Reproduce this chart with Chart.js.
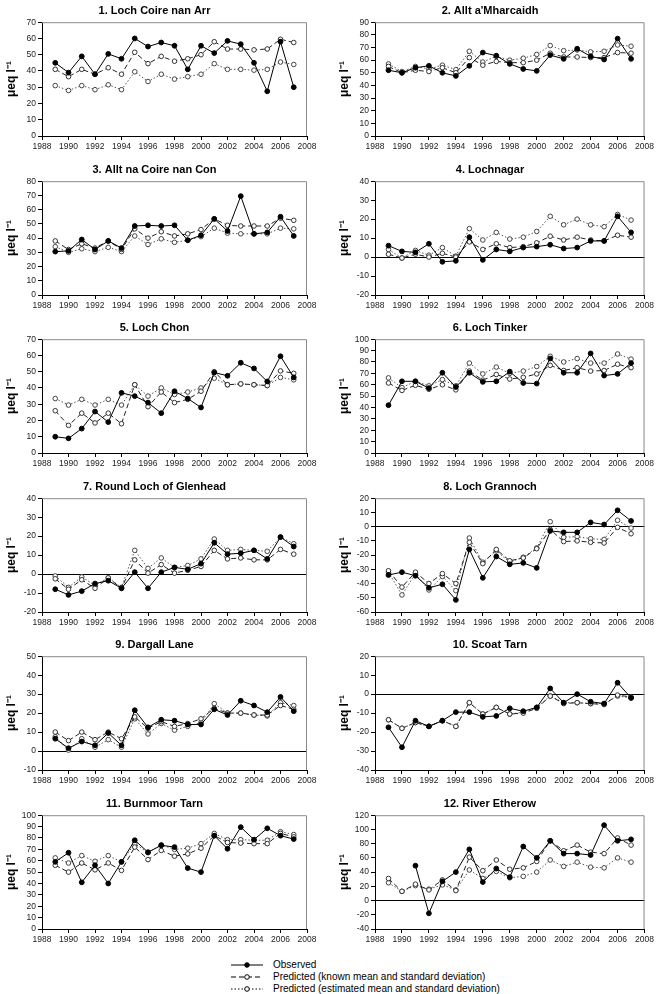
<!DOCTYPE html>
<html>
<head>
<meta charset="utf-8">
<script src="https://cdn.jsdelivr.net/npm/chart.js@4.4.1/dist/chart.umd.min.js"></script>
<style>
  body { margin: 0; background: #fff; font-family: "Liberation Sans", Arial, sans-serif; }
  #wrap { position: relative; width: 656px; height: 994px; overflow: hidden; }
  .panel { position: absolute; width: 328px; height: 158px; }
  .lg { position: absolute; left: 230px; height: 12px; font-size: 10px; line-height: 12px; color: #000; display: flex; align-items: center; }
  .lg svg { margin-right: 9px; }
</style>
</head>
<body>
<div id="wrap"></div>
<script>
// years sampled
const years = [1989, 1990, 1991, 1992, 1993, 1994, 1995, 1996, 1997, 1998, 1999, 2000, 2001, 2002, 2003, 2004, 2005, 2006, 2007];

const siteNames = ['1. Loch Coire nan Arr', "2. Allt a'Mharcaidh", '3. Allt na Coire nan Con', '4. Lochnagar',
    '5. Loch Chon', '6. Loch Tinker', '7. Round Loch of Glenhead', '8. Loch Grannoch',
    '9. Dargall Lane', '10. Scoat Tarn', '11. Burnmoor Tarn', '12. River Etherow'];
const yMins = [0, 0, 0, -20, 0, 0, -20, -60, -10, -40, 0, -40];
const yMaxs = [70, 90, 80, 40, 70, 100, 40, 20, 50, 20, 100, 120];
const ySteps = [10, 10, 10, 10, 10, 10, 10, 10, 10, 10, 10, 20];

// observed / predicted (known mean & sd) / predicted (estimated mean & sd)
const obs1 = [45, 39, 49, 38, 50.5, 47.5, 60, 55, 57.5, 55.5, 41, 55.5, 51, 58.5, 56.5, 45, 27.5, 58, 30];
const known1 = [41, 36.5, 41, 38, 42, 38, 51.5, 44.5, 49, 46, 47.5, 50, 58, 53.5, 53.5, 53, 53.5, 59.5, 57.5];
const est1 = [31, 28, 31, 28.5, 31.5, 28.5, 39.5, 33.5, 38, 35, 36.5, 38, 44.5, 41, 41, 40.5, 41, 45.5, 44];

const obs2 = [52, 50, 54, 55.5, 50, 47.5, 55.5, 66, 63.5, 57, 53, 51.5, 64, 61, 69, 63, 60.5, 77, 61];
const known2 = [55, 50, 52, 51, 54, 50, 62, 56, 59, 58, 58, 60, 65.5, 62.5, 62.5, 62, 62, 66, 65.5];
const est2 = [57, 51, 55, 53, 56, 52.5, 67, 58.5, 63, 60, 61.5, 64.5, 71.5, 67.5, 68, 66.5, 67, 72, 71];

const obs3 = [30.5, 31, 39, 32, 38, 33, 48.5, 49, 48.5, 49, 38.5, 42, 53.5, 45, 69.5, 43, 44, 55, 41.5];
const known3 = [38, 32, 36, 33, 38, 32, 46.5, 40, 44.5, 41.5, 43, 46, 53.5, 49, 48.5, 48.5, 48.5, 54, 52.5];
const est3 = [34, 30, 32.5, 30.5, 33.5, 30.5, 41.5, 35.5, 39.5, 37, 38.5, 41, 47, 43.5, 43, 43, 43, 47, 46.5];

const obs4 = [6, 3, 2.5, 7, -2.5, -2, 10.5, -1.5, 4, 3, 5, 5.5, 6.5, 4.5, 5, 8.5, 8.5, 21.5, 13];
const known4 = [1.5, -0.5, 1.5, 0, 2, 0, 8, 4, 7, 5, 5.5, 7.5, 11, 9, 10.5, 9, 8.5, 11.5, 10.5];
const est4 = [4, -0.5, 3.5, 1, 5, 0.5, 15, 9, 13, 9.5, 10.5, 13.5, 21.5, 17, 20, 17, 16, 22.5, 19.5];

const obs5 = [10, 9, 15, 25.5, 19, 37, 35, 31, 24.5, 38, 33.5, 28, 49.5, 47.5, 55.5, 52, 44, 59.5, 46.5];
const known5 = [26, 17, 24.5, 18.5, 24.5, 18, 42, 28.5, 37.5, 31, 33, 38, 50, 42, 42.5, 42, 41.5, 50.5, 49];
const est5 = [33.5, 29.5, 33, 29.5, 33, 29.5, 42, 35, 40, 36, 37.5, 40, 46, 42, 42.5, 42, 41.5, 46.5, 45];

const obs6 = [42, 63, 63, 57, 70.5, 58, 70.5, 62.5, 63, 71.5, 61.5, 61, 83, 70.5, 70.5, 87.5, 68, 69.5, 79];
const known6 = [61.5, 55, 59.5, 56, 60, 55.5, 72, 64, 69, 65, 66.5, 69.5, 77, 72.5, 75, 72, 72.5, 78, 75];
const est6 = [66, 57.5, 63, 59, 64.5, 59, 79, 69.5, 75.5, 70, 72, 76, 85, 80, 83, 79, 79, 87, 82.5];

const obs7 = [-8, -11, -9, -5, -3.5, -7.5, 1, -7.5, 1, 3.5, 2.5, 5.5, 16.5, 10.5, 11, 12.5, 8, 19.5, 14.5];
const known7 = [-2.5, -8, -3, -7.5, -2, -7.5, 7.5, 0.5, 5, 0.5, 2, 4, 12.5, 8, 8.5, 7.5, 7.5, 13, 10.5];
const est7 = [-1, -7, -1.5, -6, -2, -7, 12.5, 3, 8.5, 3.5, 4.5, 8, 18.5, 12.5, 13, 12.5, 12, 19.5, 16];

const obs8 = [-34, -32, -34.5, -43, -40.5, -51.5, -16, -36, -21, -26.5, -25.5, -29, -3, -4, -4, 3, 1.5, 11.5, 4];
const known8 = [-31, -42.5, -32, -40, -33, -40, -11, -26, -16, -24, -22, -15.5, -2, -10.5, -10, -11, -11.5, -0.5, -5];
const est8 = [-32, -48, -33, -44.5, -35, -45, -8, -25, -17, -25, -21.5, -15, 3.5, -7.5, -7, -8.5, -9, 4.5, -1];

const obs9 = [6.5, 1.5, 5, 3, 9.5, 3, 21.5, 12.5, 16.5, 16, 14, 14, 22, 19, 26.5, 24, 20.5, 28.5, 21];
const known9 = [10, 5.5, 10, 6, 10, 6.5, 18, 12, 15.5, 13, 14.5, 17, 22.5, 20, 20, 19, 19, 24, 22];
const est9 = [7.5, 0.5, 6.5, 2, 6, 2, 17, 9, 14.5, 11, 13, 15, 25, 20, 20, 19, 18.5, 25.5, 24];

const obs10 = [-17.5, -28, -14, -17, -14, -9.5, -9.5, -12, -11.5, -7.5, -9, -7, 3, -4.5, 0, -4, -5, 6, -2];
const known10 = [-13.5, -18, -15, -17, -14, -17, -4.5, -10.5, -7, -10.5, -10, -7.5, -1, -5, -4.5, -5, -5.5, -0.5, -1.5];
const est10 = [-13.5, -18, -15, -17, -14, -17, -4.5, -10.5, -7, -10.5, -9.5, -7, -1, -4.5, -4.5, -5, -5, -1, -2];

const obs11 = [59, 67, 41, 56, 40, 59, 78, 67.5, 73.5, 72, 53.5, 50, 82, 70.5, 89.5, 78.5, 88.5, 82, 79];
const known11 = [56, 50, 58, 52, 58, 51.5, 72, 61, 69, 64, 66, 71, 82, 76, 75.5, 75, 75, 84, 81];
const est11 = [62.5, 58, 64.5, 59.5, 64.5, 59, 75, 67, 74, 70, 71, 75, 84, 78.5, 78.5, 78, 78, 85.5, 83];

const obs12 = [null, null, 49, -18, 27, 40, 72, 26, 45, 33, 76, 60, 84, 66, 66, 64, 106, 84, 86];
const known12 = [31, 13, 23, 15, 29, 14, 61, 42, 57, 44, 46, 55, 84, 70, 78, 68, 66, 88, 78];
const est12 = [25, 13, 21, 16, 22, 15, 43, 31, 41, 32, 34, 40, 57, 48, 54, 47, 46, 60, 54];

const observed = [obs1, obs2, obs3, obs4, obs5, obs6, obs7, obs8, obs9, obs10, obs11, obs12];
const knownPred = [known1, known2, known3, known4, known5, known6, known7, known8, known9, known10, known11, known12];
const estPred = [est1, est2, est3, est4, est5, est6, est7, est8, est9, est10, est11, est12];

const FONT = '"Liberation Sans", Arial, sans-serif';
const toXY = vals => years.map((yr, i) => ({ x: yr, y: vals[i] }));

// gray frame on top/right of plot area
const frame = {
    id: 'frame',
    beforeDatasetsDraw(chart) {
        const a = chart.chartArea, c = chart.ctx;
        c.save();
        c.strokeStyle = '#8a8a8a';
        c.lineWidth = 1;
        c.beginPath();
        c.moveTo(a.left, a.top + 0.5);
        c.lineTo(a.right - 0.5, a.top + 0.5);
        c.lineTo(a.right - 0.5, a.bottom);
        c.stroke();
        c.restore();
    }
};

const wrap = document.getElementById('wrap');

siteNames.forEach(function (name, i) {
    const col = i % 2, row = Math.floor(i / 2);
    const box = document.createElement('div');
    box.className = 'panel';
    box.style.left = (col * 328) + 'px';
    box.style.top = Math.round(row * 158.6) + 'px';
    const cv = document.createElement('canvas');
    cv.width = 328; cv.height = 158;
    box.appendChild(cv);
    wrap.appendChild(box);

    new Chart(cv.getContext('2d'), {
        type: 'line',
        data: {
            datasets: [{
                label: 'Observed',
                data: toXY(observed[i]),
                borderColor: '#000',
                borderWidth: 1,
                pointRadius: 2.4,
                pointBackgroundColor: '#000',
                pointBorderColor: '#000',
                pointBorderWidth: 1,
                tension: 0
            }, {
                label: 'Predicted (known mean and standard deviation)',
                data: toXY(knownPred[i]),
                borderColor: '#222',
                borderWidth: 1,
                borderDash: [5, 3],
                pointRadius: 2.3,
                pointBackgroundColor: '#fff',
                pointBorderColor: '#333',
                pointBorderWidth: 1,
                tension: 0
            }, {
                label: 'Predicted (estimated mean and standard deviation)',
                data: toXY(estPred[i]),
                borderColor: '#555',
                borderWidth: 1,
                borderDash: [1.5, 2],
                pointRadius: 2.3,
                pointBackgroundColor: '#fff',
                pointBorderColor: '#444',
                pointBorderWidth: 1,
                tension: 0
            }]
        },
        options: {
            responsive: false,
            animation: false,
            layout: { padding: { left: col ? 7 : 2, right: col ? 11 : 21, top: 0, bottom: 5 } },
            plugins: {
                legend: { display: false },
                tooltip: { enabled: false },
                title: {
                    display: true,
                    text: name,
                    color: '#000',
                    font: { family: FONT, size: 11, weight: 'bold' },
                    padding: { top: 4, bottom: 5 }
                }
            },
            scales: {
                x: {
                    type: 'linear',
                    min: 1988, max: 2008,
                    border: { color: '#000', width: 1 },
                    grid: { drawOnChartArea: false, drawTicks: true, tickLength: 4, tickColor: '#000' },
                    ticks: {
                        stepSize: 2, autoSkip: false, maxRotation: 0, padding: 2,
                        color: '#222', font: { family: FONT, size: 8.5 },
                        callback: v => String(v)
                    },
                    afterFit: s => { s.height = 17; }
                },
                y: {
                    min: yMins[i], max: yMaxs[i],
                    border: { color: '#000', width: 1 },
                    grid: {
                        drawOnChartArea: true, drawTicks: true, tickLength: 4, tickColor: '#000',
                        color: c => (c.tick && c.tick.value === 0 ? '#000' : 'rgba(0,0,0,0)')
                    },
                    ticks: {
                        stepSize: ySteps[i], autoSkip: false, padding: 2,
                        color: '#222', font: { family: FONT, size: 8.5 }
                    },
                    title: {
                        display: true,
                        text: 'μeq l⁻¹',
                        color: '#000',
                        font: { family: FONT, size: 12, weight: 'bold' },
                        padding: { top: 2, bottom: 2 }
                    },
                    afterFit: s => { s.width = 40; }
                }
            }
        },
        plugins: [frame]
    });
});

// legend
const legendRows = [
    { text: 'Observed', dash: '', fill: '#000' },
    { text: 'Predicted (known mean and standard deviation)', dash: '5,3', fill: '#fff' },
    { text: 'Predicted (estimated mean and standard deviation)', dash: '1.5,2', fill: '#fff' }
];
legendRows.forEach(function (r, k) {
    const d = document.createElement('div');
    d.className = 'lg';
    d.style.top = (959 + k * 12) + 'px';
    d.innerHTML = '<svg width="34" height="8"><line x1="1" y1="4" x2="33" y2="4" stroke="#000" stroke-width="1"' +
        (r.dash ? ' stroke-dasharray="' + r.dash + '"' : '') + '/>' +
        '<circle cx="17" cy="4" r="2.3" fill="' + r.fill + '" stroke="#000" stroke-width="1"/></svg>' +
        '<span>' + r.text + '</span>';
    wrap.appendChild(d);
});
</script>
</body>
</html>
